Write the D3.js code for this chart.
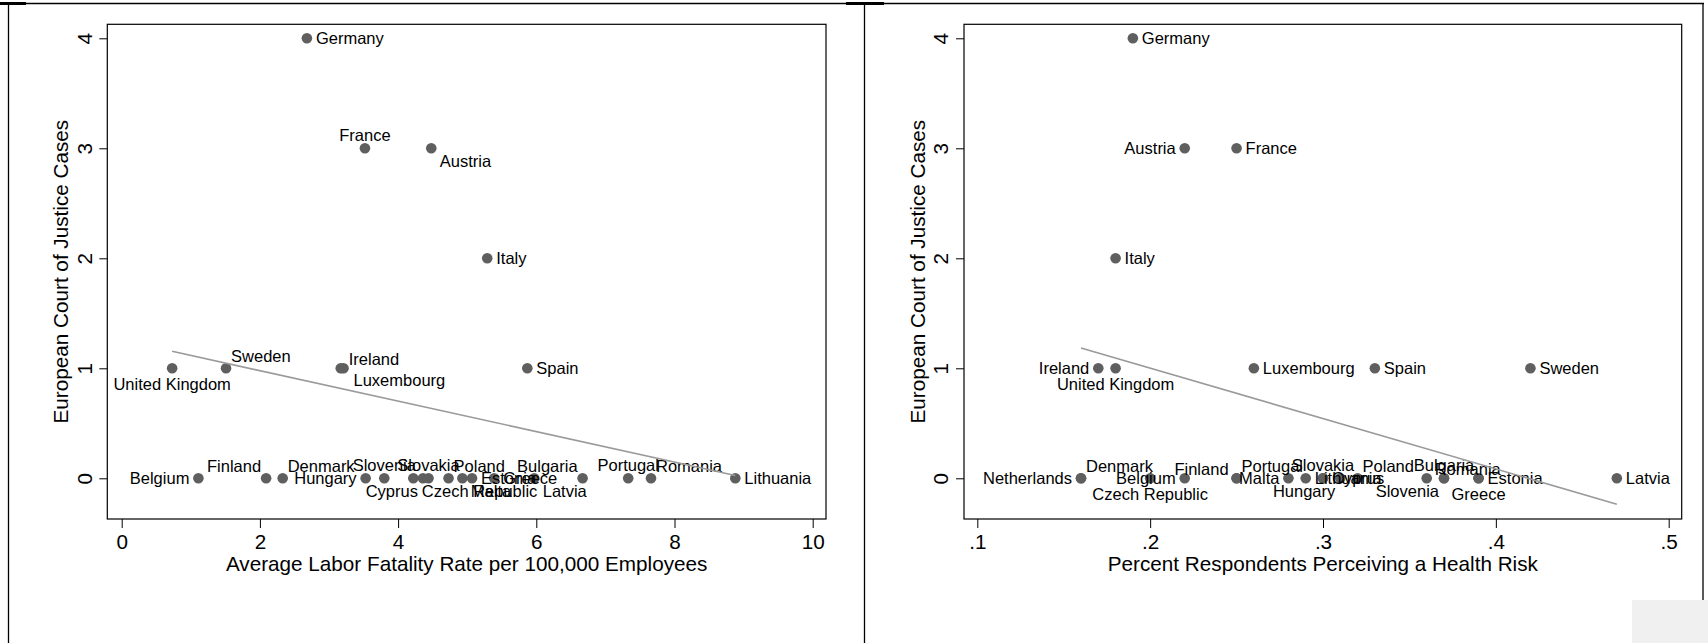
<!DOCTYPE html>
<html><head><meta charset="utf-8">
<script src="https://cdn.jsdelivr.net/npm/d3@7"></script>
<style>
body{margin:0;background:#fff;}
svg{display:block;}
</style>
</head><body>
<svg id="c" width="1708" height="643"></svg>
<script>
// ---------------- DATA ----------------
// Left panel: Average labor fatality rate vs ECJ cases
const leftCountries = ["Germany","France","Austria","Italy","United Kingdom","Sweden","Ireland","Luxembourg","Spain",
  "Belgium","Finland","Denmark","Hungary","Slovenia","Czech Republic","Cyprus","Slovakia","Poland","Malta","Estonia",
  "Greece","Latvia","Bulgaria","Portugal","Romania","Lithuania"];
const leftFatality = [2.68,3.52,4.48,5.29,0.73,1.51,3.17,3.21,5.87,
  1.11,2.09,2.33,3.53,3.80,4.22,4.36,4.44,4.73,4.93,5.07,
  5.39,5.97,6.67,7.33,7.66,8.88];
const leftCases = [4,3,3,2,1,1,1,1,1,
  0,0,0,0,0,0,0,0,0,0,0,
  0,0,0,0,0,0];

// Right panel: share perceiving a health risk vs ECJ cases
const rightCountries = ["Germany","Austria","France","Italy","Ireland","United Kingdom","Luxembourg","Spain","Sweden",
  "Netherlands","Denmark","Czech Republic","Belgium","Finland","Portugal","Malta","Lithuania","Cyprus","Slovakia",
  "Hungary","Poland","Romania","Bulgaria","Slovenia","Estonia","Greece","Latvia"];
const rightRisk = [0.19,0.22,0.25,0.18,0.17,0.18,0.26,0.33,0.42,
  0.16,0.16,0.20,0.22,0.25,0.25,0.28,0.29,0.30,0.30,
  0.31,0.32,0.36,0.37,0.37,0.39,0.39,0.47];
const rightCases = [4,3,3,2,1,1,1,1,1,
  0,0,0,0,0,0,0,0,0,0,
  0,0,0,0,0,0,0,0];

const yTicks = [0,1,2,3,4];
const leftXTicks = [0,2,4,6,8,10];
const rightXTicks = [0.1,0.2,0.3,0.4,0.5];
const yTitle = "European Court of Justice Cases";
const leftXTitle = "Average Labor Fatality Rate per 100,000 Employees";
const rightXTitle = "Percent Respondents Perceiving a Health Risk";

// ---------------- LABEL PLACEMENT (clock positions, layout only) ----------------
const leftClock = [3,12,5,3,6,1,2,4,3, 9,11,1,9,12,5,7,12,1,5,3, 3,5,11,12,1,3];
const rightClock = [3,9,3,3,9,6,3,3,3, 9,1,6,9,10,1,9,3,3,12, 7,1,2,12,7,3,6,3];

// ---------------- DRAWING ----------------
const FONT = '"Liberation Sans", Arial, Helvetica, sans-serif';
const svg = d3.select("#c");
svg.append("rect").attr("width",1708).attr("height",643).attr("fill","#fff");

const clockOff = {
  0:["middle",0,0], 1:["start",5,-12], 2:["start",8,-9], 3:["start",9,0],
  4:["start",10,12], 5:["start",8.5,12.5], 6:["middle",0,16], 7:["end",-5,12.5],
  8:["end",-8,9], 9:["end",-9,0], 10:["end",-8,-9], 11:["end",-5,-12], 12:["middle",0,-13]
};

function ols(xs, ys){
  const n = xs.length, mx = d3.mean(xs), my = d3.mean(ys);
  let sxy = 0, sxx = 0;
  for (let i=0;i<n;i++){ sxy += (xs[i]-mx)*(ys[i]-my); sxx += (xs[i]-mx)**2; }
  const b = sxy/sxx; return {b, a: my - b*mx};
}

function panel(cfg){
  const {box, x, names, xs, ys, clocks, xTicks, xFmt, xTitle} = cfg;
  const y = d3.scaleLinear().domain([0,4]).range([478.3,38.3]);
  const g = svg.append("g");

  // plot region
  g.append("rect").attr("x",box.l).attr("y",box.t)
    .attr("width",box.r-box.l).attr("height",box.b-box.t)
    .attr("fill","none").attr("stroke","#000").attr("stroke-width",1.2);

  // x axis
  const gx = g.append("g").attr("transform",`translate(0,${box.b})`)
    .call(d3.axisBottom(x).tickValues(xTicks).tickFormat(xFmt).tickSize(9).tickPadding(6.6));
  gx.select(".domain").remove();
  gx.selectAll(".tick line").attr("stroke","#000").attr("stroke-width",1);
  gx.selectAll("text").attr("font-family",FONT).attr("font-size",20.7).attr("fill","#000");

  // y axis
  const gy = g.append("g").attr("transform",`translate(${box.l},0)`)
    .call(d3.axisLeft(y).tickValues(yTicks).tickFormat(d3.format("d")).tickSize(8));
  gy.select(".domain").remove();
  gy.selectAll(".tick line").attr("stroke","#000").attr("stroke-width",1);
  gy.selectAll("text").attr("font-family",FONT).attr("font-size",20.7).attr("fill","#000")
    .attr("x",null).attr("dy",null).attr("text-anchor","middle")
    .attr("transform","translate(-15.6,0) rotate(-90)");

  // axis titles
  g.append("text").attr("x",(box.l+box.r)/2).attr("y",570.5)
    .attr("text-anchor","middle").attr("font-family",FONT).attr("font-size",20.7)
    .attr("fill","#000").text(xTitle);
  g.append("text").attr("transform",`translate(${box.l-39.5},${(box.t+box.b)/2}) rotate(-90)`)
    .attr("text-anchor","middle").attr("font-family",FONT).attr("font-size",20.7)
    .attr("fill","#000").text(yTitle);

  const idx = d3.range(names.length);
  // markers
  g.append("g").selectAll("circle").data(idx).join("circle")
    .attr("cx",i=>x(xs[i])).attr("cy",i=>y(ys[i])).attr("r",5.3).attr("fill","#5f5f5f");
  // labels
  g.append("g").selectAll("text").data(idx).join("text")
    .attr("x",i=>x(xs[i])+clockOff[clocks[i]][1])
    .attr("y",i=>y(ys[i])+clockOff[clocks[i]][2])
    .attr("dy","0.36em")
    .attr("text-anchor",i=>clockOff[clocks[i]][0])
    .attr("font-family",FONT).attr("font-size",16.5).attr("fill","#000")
    .text(i=>names[i]);

  // linear fit
  const f = ols(xs, ys);
  const [x0,x1] = d3.extent(xs);
  g.append("line").attr("x1",x(x0)).attr("y1",y(f.a+f.b*x0))
    .attr("x2",x(x1)).attr("y2",y(f.a+f.b*x1))
    .attr("stroke","#9a9a9a").attr("stroke-width",1.6);
}

panel({
  box:{l:107.3,r:826,t:24.3,b:519},
  x: d3.scaleLinear().domain([0,10]).range([121.7,812.7]),
  names:leftCountries, xs:leftFatality, ys:leftCases, clocks:leftClock,
  xTicks:leftXTicks, xFmt:d3.format("d"), xTitle:leftXTitle
});
panel({
  box:{l:964,r:1681.7,t:24.3,b:519},
  x: d3.scaleLinear().domain([0.1,0.5]).range([977.3,1668.7]),
  names:rightCountries, xs:rightRisk, ys:rightCases, clocks:rightClock,
  xTicks:rightXTicks, xFmt:d=>d3.format(".1f")(d).replace(/^0/,""), xTitle:rightXTitle
});

// outer frame lines
const fr = svg.append("g").attr("stroke","#000");
fr.append("line").attr("x1",8).attr("x2",1704).attr("y1",3.5).attr("y2",3.5).attr("stroke-width",1.4);
fr.append("line").attr("x1",0).attr("x2",26).attr("y1",3.5).attr("y2",3.5).attr("stroke-width",3);
fr.append("line").attr("x1",846).attr("x2",884).attr("y1",3.5).attr("y2",3.5).attr("stroke-width",3);
[8.5,864.5,1703].forEach(xv=>fr.append("line").attr("x1",xv).attr("x2",xv).attr("y1",3).attr("y2",643).attr("stroke-width",1.3));
svg.append("rect").attr("x",1632).attr("y",600).attr("width",76).attr("height",43).attr("fill","#f0f0f0");
</script>
</body></html>
